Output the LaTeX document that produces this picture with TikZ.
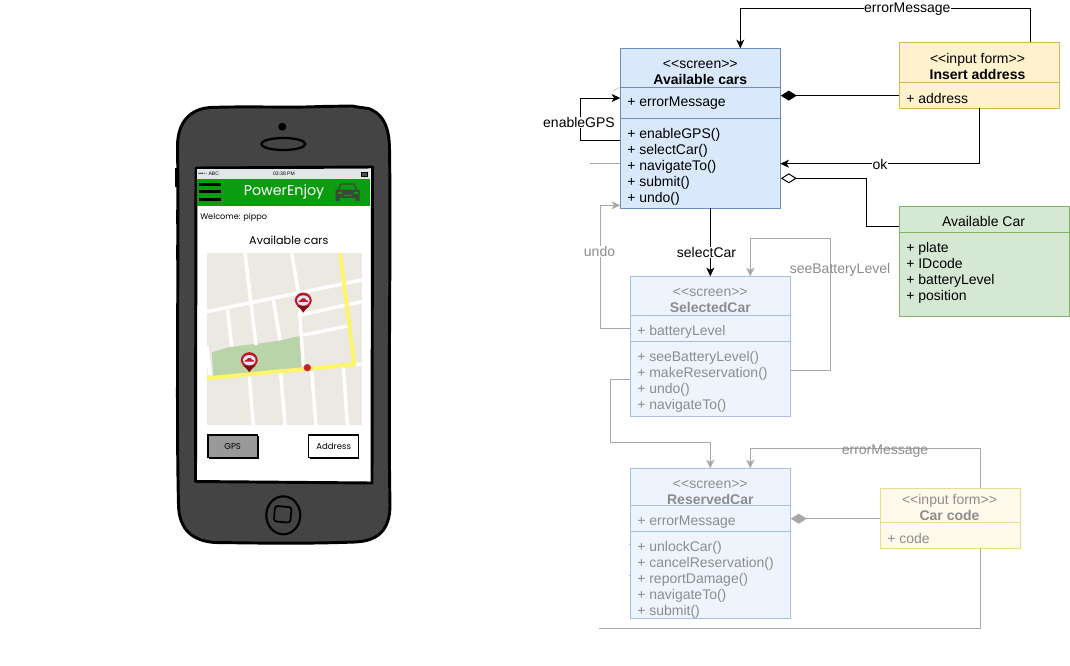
\documentclass[tikz,border=0pt]{standalone}
\usepackage{fontspec}
\setmainfont[Ligatures=NoCommon]{Liberation Sans}
\newfontfamily\uifont{Poppins}
\usetikzlibrary{calc,arrows.meta,shapes.geometric}
\definecolor{ablue}{HTML}{DAE8FC}\definecolor{sblue}{HTML}{6C8EBF}
\definecolor{fblue}{HTML}{EEF4FE}\definecolor{gblue}{HTML}{A6BFE3}
\definecolor{ayel}{HTML}{FFF2CC}\definecolor{syel}{HTML}{D6B656}
\definecolor{fyel}{HTML}{FFFAEB}\definecolor{gyel}{HTML}{EFD98F}
\definecolor{agrn}{HTML}{D5E8D4}\definecolor{sgrn}{HTML}{82B366}
\definecolor{gtext}{HTML}{8C8C8C}\definecolor{gline}{HTML}{A8A8A8}
\definecolor{bodyc}{HTML}{444444}\definecolor{mapc}{HTML}{EBE9E2}
\definecolor{parkc}{HTML}{B9D4A8}\definecolor{roadc}{HTML}{FDF56A}
\definecolor{barc}{HTML}{0C9C10}\definecolor{pinc}{HTML}{C0181F}
\definecolor{statusc}{HTML}{E3E6E8}\definecolor{caric}{HTML}{3A4A3A}
\definecolor{dotc}{HTML}{CC2229}\definecolor{gpsc}{HTML}{999999}
\tikzset{
  uml/.style={draw=#1,line width=0.75pt,anchor=north west,inner sep=0pt,outer sep=0pt},
  umltxt/.style={font=\fontsize{10.5pt}{12pt}\selectfont,inner sep=0pt,align=left,anchor=west,yshift=-1.1pt},
  umlhead/.style={font=\fontsize{10.5pt}{12pt}\selectfont,inner sep=0pt,align=center,anchor=center,yshift=-1.1pt},
  conn/.style={draw=black,line width=0.75pt},
  gconn/.style={draw=gline,line width=0.75pt},
  tip/.style={-{Stealth[length=6.5pt,width=6pt,inset=1.8pt]}},
  lab/.style={font=\fontsize{10.5pt}{12pt}\selectfont,inner sep=0.5pt,fill=white,yshift=-0.3pt},
  street/.style={draw=white,line width=2.6pt},
  btn/.style={draw=black,line width=1pt},
  btntxt/.style={font=\uifont\fontsize{6.4pt}{7pt}\selectfont,inner sep=0pt},
}
\newcommand{\umlbox}[7]{% name, x, y, w, h, fill, stroke
  \node[uml=#7,fill=#6,minimum width=#4*0.75pt,minimum height=#5*0.75pt] (#1) at (#2,#3) {};}
\newcommand{\umlrule}[3]{% name, y-offset, stroke
  \draw[draw=#3,line width=0.75pt] ($(#1.north west)+(0,#2)$) -- ($(#1.north east)+(0,#2)$);}
\newcommand{\mappin}[2]{%
  \begin{scope}[shift={(#1,#2)}]
    \fill[pinc] (0,10.5) .. controls (-2,6.5) and (-8.5,3) .. (-8.5,-1.2) .. controls (-8.5,-6) and (-4.5,-9.5) .. (0,-9.5) .. controls (4.5,-9.5) and (8.5,-6) .. (8.5,-1.2) .. controls (8.5,3) and (2,6.5) .. (0,10.5) -- cycle;
    \fill[black!35!pinc] (0,10.5) .. controls (-2,6.5) and (-5,5) .. (-6.5,4) -- (6.5,4) .. controls (5,5) and (2,6.5) .. (0,10.5) -- cycle;
    \fill[white!88!blue] (0,-1.5) ellipse (6.3 and 5.2);
    \fill[pinc] (-4.8,-0.8) -- (-2.8,-1.9) -- (-1.2,-3.6) -- (1.4,-3.6) -- (2.8,-1.9) -- (4.8,-1.1) -- (4.5,-0.1) -- (-4.5,0) -- cycle;
  \end{scope}}
\begin{document}
\begin{tikzpicture}[x=0.75pt,y=-0.75pt]
\useasboundingbox (0,0) rectangle (1070,665);
\fill[white] (0,0) rectangle (1070,665);

% ---- phone
\draw[black,line width=2.2pt,fill=bodyc,line join=round]
  (210,107.5) .. controls (250,106) and (290,108) .. (320,106.5)
  -- (352,106) .. controls (362,108) and (370,108) .. (372,110)
  .. controls (384,116) and (389,128) .. (389.5,148)
  .. controls (391,250) and (388,400) .. (390,505)
  .. controls (390,530) and (378,541) .. (355,542)
  .. controls (300,544) and (260,543) .. (215,542.5)
  .. controls (193,541) and (179,530) .. (178.5,505)
  .. controls (176,400) and (179,250) .. (177.5,145)
  .. controls (178,122) and (190,109) .. (210,107.5) -- cycle;
\fill[black] (175,168) rectangle (178,187);
\fill[black] (175.5,210) rectangle (178,224);
\fill[black] (175.5,245) rectangle (178,260);
\fill[black] (282.3,126.7) circle (4);
\draw[black,line width=1.7pt] (283.3,144) ellipse (22 and 6);
\draw[black,line width=2.2pt,fill=white,line join=round] (196,168) -- (372.5,167) -- (372,483) -- (195.5,481.5) -- cycle;
\draw[black,line width=1.6pt] (283.3,515.3) ellipse (17 and 19);
\draw[black,line width=1.3pt,rounded corners=2pt,rotate around={-5:(282.5,513.5)}] (274.5,506.5) rectangle (291,522) ;

% status bar and title bar
\fill[statusc] (197,169) rectangle (370,178.5);
\fill[barc] (197,178.5) rectangle (369.5,205.5);
\foreach \yy in {184.2,191.7,199.2} \fill[black] (198.5,\yy-1.7) rectangle (221,\yy+1.7);
\node[font=\uifont\fontsize{10.7pt}{12pt}\selectfont,text=white,inner sep=0pt] (title) at (284,192) {PowerEnjoy};
\node[font=\fontsize{3.8pt}{4pt}\selectfont,inner sep=0pt,anchor=west] (abc) at (198,174) {\textbullet\textbullet\textbullet\textopenbullet\textopenbullet{} ABC};
\node[font=\fontsize{3.8pt}{4pt}\selectfont,inner sep=0pt] (clock) at (284,174) {03:38 PM};
\draw[black,line width=0.5pt,fill=black!70] (361,172) rectangle (367,176);
\fill[black] (367,173) rectangle (367.8,175);
% car icon
\begin{scope}[shift={(347.5,192.5)}]
  \draw[caric,line width=1pt,fill=none] (-9,-3) -- (-6.5,-8.5) -- (6.5,-8.5) -- (9,-3);
  \fill[caric] (-12,-3) -- (12,-3) -- (12,3) -- (12,8.5) -- (8,8.5) -- (8,5.5) -- (-8,5.5) -- (-8,8.5) -- (-12,8.5) -- cycle;
  \fill[barc] (-10,-0.5) rectangle (-6,1.7);
  \fill[barc] (6,-0.5) rectangle (10,1.7);
  \fill[barc] (-4,2.8) rectangle (4,3.8);
\end{scope}
\node[font=\uifont\fontsize{6.1pt}{8pt}\selectfont,inner sep=0pt,anchor=west] (welcome) at (200,217) {Welcome: pippo};
\node[font=\uifont\fontsize{8.4pt}{10pt}\selectfont,inner sep=0pt] (screentitle) at (288.8,240) {Available cars};

% map
\begin{scope}[shift={(160,250)},scale=1/3]
  \fill[mapc] (141,10) rectangle (605,525);
  \begin{scope}
    \clip (141,10) rectangle (605,525);
    \fill[parkc] (155,307) -- (205,292) -- (360,272) -- (418,258) -- (432,352) -- (160,378) -- cycle;
    \draw[street] (141,185) -- (605,90);
    \draw[street] (255,10) -- (288,285);
    \draw[street] (395,10) -- (415,125) -- (430,350);
    \draw[street] (203,180) -- (215,290);
    \draw[street] (340,150) -- (360,270);
    \draw[street] (420,195) -- (605,155);
    \draw[street] (430,255) -- (565,228);
    \draw[street] (141,290) -- (150,375);
    \draw[street] (268,380) -- (280,525);
    \draw[street] (362,370) -- (375,525);
    \draw[street] (455,365) -- (468,525);
    \draw[street] (550,350) -- (562,525);
    \draw[street] (585,345) -- (605,342);
    \draw[roadc,line width=3pt,line join=miter] (540,10) -- (583,343) -- (141,385);
    \fill[dotc] (442,353) circle (11);
  \end{scope}
\end{scope}
\mappin{303.3}{302}
\mappin{249.3}{361.7}

% buttons
\begin{scope}[shift={(160,250)},scale=1/3]
  \fill[black] (147,558) rectangle (297,627);
  \draw[btn,fill=gpsc] (144,555) rectangle (293,623);
  \fill[black] (449,558) rectangle (598,627);
  \draw[btn,fill=white] (446,555) rectangle (595,623);
\end{scope}
\node[btntxt] (gps) at (232.7,446.7) {GPS};
\node[btntxt] (addr) at (333.7,446.7) {Address};

% ---- UML boxes
\umlbox{ac}{620.3}{48.3}{160}{160}{ablue}{sblue}
\umlbox{ia}{899.3}{42.3}{160}{66}{ayel}{syel}
\umlbox{car}{899.3}{206.7}{170}{109.6}{agrn}{sgrn}
\umlbox{sc}{630.3}{276.3}{160}{140}{fblue}{gblue}
\umlbox{rc}{630.3}{468.3}{160}{150}{fblue}{gblue}
\umlbox{cc}{880.3}{488.3}{140}{60}{fyel}{gyel}
\umlrule{ac}{39}{sblue}\umlrule{ac}{70}{sblue}
\umlrule{ia}{40}{syel}
\umlrule{car}{25.6}{sgrn}
\umlrule{sc}{39}{gblue}\umlrule{sc}{65}{gblue}
\umlrule{rc}{37}{gblue}\umlrule{rc}{63}{gblue}
\umlrule{cc}{34}{gyel}

% ---- UML texts
\node[umlhead] (acH) at (700.3,71.3) {<{}<screen>{}>\\\textbf{Available cars}};
\node[umltxt] (acA) at (627,102) {+ errorMessage};
\node[umltxt] (acM) at (627,165) {+ enableGPS()\\+ selectCar()\\+ navigateTo()\\+ submit()\\+ undo()};
\node[umlhead] (iaH) at (977.5,65.5) {<{}<input form>{}>\\\textbf{Insert address}};
\node[umltxt] (iaA) at (906,97) {+ address};
\node[umlhead] (carH) at (983.5,220) {Available Car};
\node[umltxt] (carA) at (906,271) {+ plate\\+ IDcode\\+ batteryLevel\\+ position};
\begin{scope}[text=gtext]
\node[umlhead] (scH) at (710.3,299) {<{}<screen>{}>\\\textbf{SelectedCar}};
\node[umltxt] (scA) at (637,330) {+ batteryLevel};
\node[umltxt] (scM) at (637,380) {+ seeBatteryLevel()\\+ makeReservation()\\+ undo()\\+ navigateTo()};
\node[umlhead] (rcH) at (710.3,491) {<{}<screen>{}>\\\textbf{ReservedCar}};
\node[umltxt] (rcA) at (637,520.5) {+ errorMessage};
\node[umltxt] (rcM) at (637,578.5) {+ unlockCar()\\+ cancelReservation()\\+ reportDamage()\\+ navigateTo()\\+ submit()};
\node[umlhead] (ccH) at (949.5,506) {<{}<input form>{}>\\\textbf{Car code}};
\node[umltxt] (ccA) at (887,537) {+ code};
\end{scope}

% ---- connectors, black
\draw[conn,tip] ($(ia.north west)+(131,0)$) -- ($(ia.north west)+(131,-34)$) -| ($(ac.north west)+(120,0)$)
  node[pos=0.212,lab,inner ysep=0pt] (l1) {errorMessage};
\draw[conn,-{Diamond[length=12pt,width=7.5pt,fill=black]}] ($(ia.north west)+(0,53.3)$) -- ($(ac.north east)+(0.5,53.3-6)$);
\draw[conn,tip] ($(ia.south west)+(80.4,0)$) |- ($(ac.north east)+(0,115.4)$)
  node[pos=0.75,lab,inner ysep=0pt] (l2) {ok};
\draw[conn,-{Diamond[length=12pt,width=7.5pt,open]}] ($(car.north west)+(0,19.6)$) -| ($(ac.north east)+(86.4,130)$) -- ($(ac.north east)+(0.5,130)$);
\draw[conn,tip] ($(ac.north west)+(0,92.2)$) -- ($(ac.north west)+(-40,92.2)$) |- ($(ac.north west)+(0,49.7)$);
\node[lab,fill=white] (l3) at (579,122) {enableGPS};
\draw[conn,tip] (ac.south -| sc.north) -- (sc.north);
\node[lab,fill=white] (l4) at (706.5,252) {selectCar};

% ---- connectors, gray
\draw[gconn] ($(ac.north west)+(0,115.4)$) -- ($(ac.north west)+(-30,115.4)$);
\draw[draw=black!20,line width=0.6pt] ($(ac.north west)+(-7,42.5)$) -- ($(ac.north west)+(-1,39)$);
\draw[gconn,tip] ($(sc.north west)+(0,52)$) -- ($(sc.north west)+(-30,52)$) |- ($(ac.south west)+(0,-3)$);
\node[lab,text=gtext,fill=white] (l5) at (599.5,251) {undo};
\draw[gconn,tip] ($(sc.north east)+(0,94)$) -- ($(sc.north east)+(40,94)$) |- ($(sc.north west)+(120,-38)$) -- ($(sc.north west)+(120,0)$);
\node[lab,text=gtext,inner xsep=0pt,fill=none] (l6) at (840,269) {seeBatteryLevel};
\draw[gconn,tip] ($(sc.north west)+(0,103)$) -- ($(sc.north west)+(-20,103)$) |- ($(rc.north)+(0,-26)$) -- (rc.north);
\draw[gconn,tip] ($(cc.north west)+(100,0)$) -- ($(cc.north west)+(100,-40)$) -| ($(rc.north west)+(120,0)$);
\node[lab,text=gtext,fill=none] (l7) at (885,451) {errorMessage};
\draw[gconn,-{Diamond[length=12pt,width=7.5pt,fill=gline]}] ($(cc.north west)+(0,30.4)$) -- ($(rc.north east)+(0.5,50.4)$);
\draw[gconn] ($(cc.south west)+(100,0)$) -- ($(cc.south west)+(100,80)$) -- ($(cc.south west)+(-281,80)$);
\draw[draw=black!30,line width=0.5pt] ($(rc.north west)+(-1.5,76)$) -- ($(rc.north west)+(0,76)$);
\draw[draw=black!30,line width=0.5pt] ($(rc.north west)+(-1.5,106.7)$) -- ($(rc.north west)+(0,106.7)$);
\end{tikzpicture}
\end{document}
